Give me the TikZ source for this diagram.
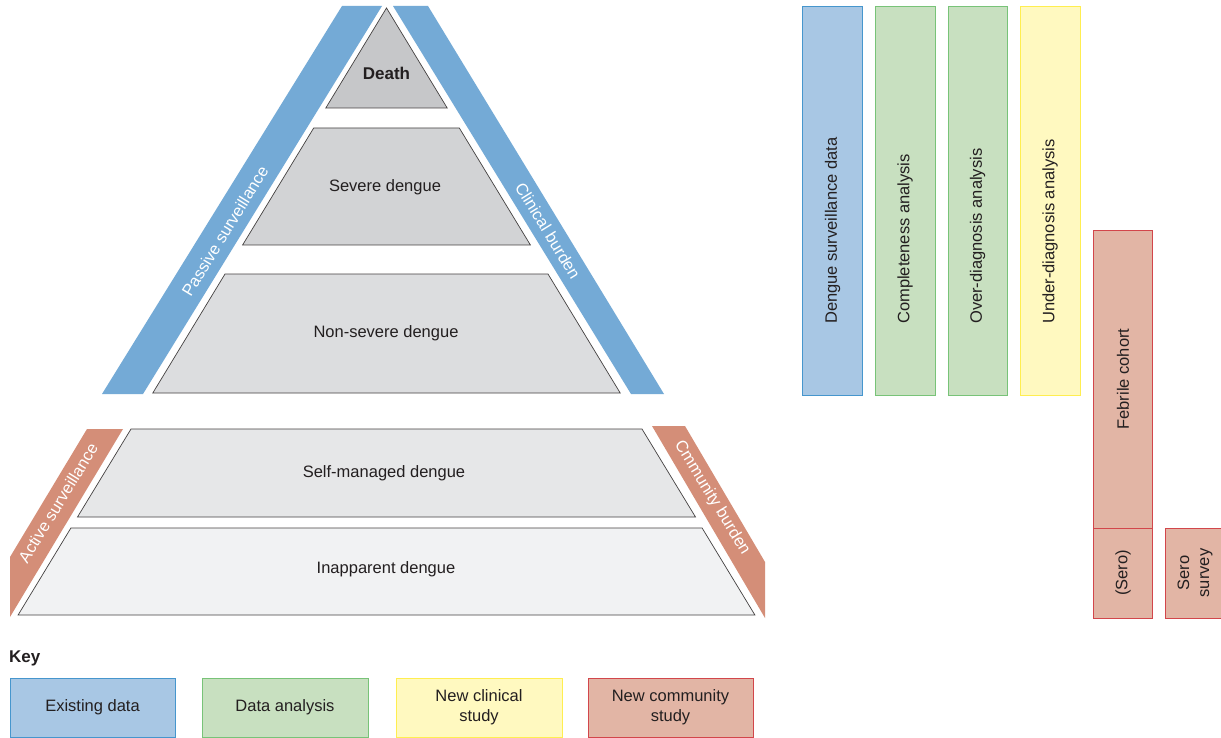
\documentclass[tikz,border=0pt]{standalone}
\usepackage{fontspec}
\setmainfont{Liberation Sans}
\definecolor{blueband}{RGB}{116,170,214}
\definecolor{orangeband}{RGB}{212,142,120}
\definecolor{exfill}{RGB}{168,199,228}
\definecolor{exdraw}{RGB}{70,150,205}
\definecolor{grfill}{RGB}{200,224,192}
\definecolor{grdraw}{RGB}{120,195,120}
\definecolor{yefill}{RGB}{255,249,192}
\definecolor{yedraw}{RGB}{255,238,80}
\definecolor{refill}{RGB}{226,181,165}
\definecolor{redraw}{RGB}{210,70,75}
\definecolor{txt}{RGB}{35,31,32}
\definecolor{gA}{RGB}{198,199,201}
\definecolor{gB}{RGB}{210,211,213}
\definecolor{gC}{RGB}{220,221,223}
\definecolor{gD}{RGB}{230,231,232}
\definecolor{gE}{RGB}{241,242,243}
\tikzset{
  lvl/.style={draw=txt!85, line width=0.7pt, line join=miter},
  lbl/.style={text=txt, font=\fontsize{16.5}{20}\selectfont, inner sep=0pt},
  bandlbl/.style={text=white, font=\fontsize{16.5}{20}\selectfont, inner sep=0pt},
  bar/.style={line width=0.9pt},
  vlbl/.style={text=txt, font=\fontsize{16.5}{20}\selectfont, inner sep=0pt, rotate=90},
}
\begin{document}
\begin{tikzpicture}[x=1pt,y=-1pt]
\clip (0,0) rectangle (1221,738);
\fill[white] (0,0) rectangle (1221,738);
% side bands
\fill[blueband] (342,6) -- (382,6) -- (143,394) -- (102,394) -- cycle;
\fill[blueband] (393,6) -- (428,6) -- (664,394) -- (631,394) -- cycle;
\fill[orangeband] (87,429) -- (123,429) -- (10,617) -- (10,557) -- cycle;
\fill[orangeband] (652,426) -- (685,426) -- (765,562) -- (765,618) -- cycle;
\node[bandlbl, rotate=58.5] (passive) at (225,231) {Passive surveillance};
\node[bandlbl, rotate=-58.5] (clinical) at (548,231) {Clinical burden};
\node[bandlbl, rotate=58.5] (active) at (58,503) {Active surveillance};
\node[bandlbl, rotate=-58.5] (community) at (712,498) {Cmmunity burden};
% pyramid levels
\draw[lvl, fill=gA] (386.5,8) -- (447.2,108) -- (325.8,108) -- cycle;
\draw[lvl, fill=gB] (313.7,128) -- (459.3,128) -- (530.4,245) -- (242.6,245) -- cycle;
\draw[lvl, fill=gC] (225.0,274) -- (548.0,274) -- (620.2,393) -- (152.8,393) -- cycle;
\draw[lvl, fill=gD] (131.0,429) -- (642.0,429) -- (695.5,517) -- (77.5,517) -- cycle;
\draw[lvl, fill=gE] (70.9,528) -- (702.1,528) -- (754.9,615) -- (18.1,615) -- cycle;
\node[lbl, font=\fontsize{17}{20}\selectfont\bfseries] (death) at (386.5,73) {Death};
\node[lbl] (severe) at (385,187) {Severe dengue};
\node[lbl] (nonsevere) at (386,333) {Non-severe dengue};
\node[lbl] (selfman) at (384,473) {Self-managed dengue};
\node[lbl] (inapp) at (386,569) {Inapparent dengue};
% right bars
\draw[bar, draw=exdraw, fill=exfill] (802.5,6) rectangle (862.5,395.5);
\draw[bar, draw=grdraw, fill=grfill] (875.5,6) rectangle (935,395.5);
\draw[bar, draw=grdraw, fill=grfill] (948,6) rectangle (1007.5,395.5);
\draw[bar, draw=yedraw, fill=yefill] (1020.5,6) rectangle (1080,395.5);
\draw[bar, draw=redraw, fill=refill] (1093.5,230) rectangle (1152.5,528.5);
\draw[bar, draw=redraw, fill=refill] (1093.5,528.5) rectangle (1152.5,618);
\draw[bar, draw=redraw, fill=refill] (1165.5,528.5) rectangle (1226,618);
\node[vlbl, anchor=west] (dsd) at (832.5,324) {Dengue surveillance data};
\node[vlbl, anchor=west] (comp) at (905,324) {Completeness analysis};
\node[vlbl, anchor=west] (over) at (977.7,324) {Over-diagnosis analysis};
\node[vlbl, anchor=west] (under) at (1050,324) {Under-diagnosis analysis};
\node[vlbl] (febrile) at (1123,379) {Febrile cohort};
\node[vlbl] (sero) at (1123,573) {(Sero)};
\node[vlbl, align=center] (serosurvey) at (1195,573) {Sero\\survey};
% key
\node[lbl, font=\fontsize{17}{20}\selectfont\bfseries, anchor=west] (key) at (9,658) {Key};
\draw[bar, draw=exdraw, fill=exfill] (10,678) rectangle (175,737) node[pos=0.5, lbl] (k1) {Existing data};
\draw[bar, draw=grdraw, fill=grfill] (202,678) rectangle (368,737) node[pos=0.5, lbl] (k2) {Data analysis};
\draw[bar, draw=yedraw, fill=yefill] (396,678) rectangle (562,737) node[pos=0.5, lbl, align=center] (k3) {New clinical\\study};
\draw[bar, draw=redraw, fill=refill] (588,678) rectangle (753,737) node[pos=0.5, lbl, align=center] (k4) {New community\\study};
\end{tikzpicture}
\end{document}
